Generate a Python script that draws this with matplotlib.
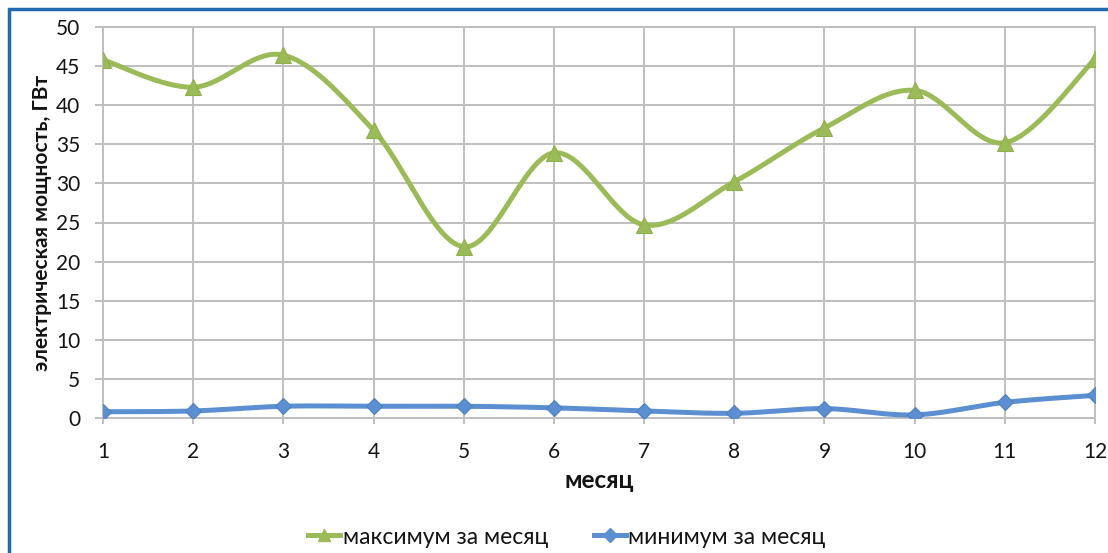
import numpy as np
import matplotlib
matplotlib.use("Agg")
import matplotlib.pyplot as plt
from matplotlib.patches import Rectangle

months = [1, 2, 3, 4, 5, 6, 7, 8, 9, 10, 11, 12]
max_vals = [45.8, 42.3, 46.4, 36.8, 21.9, 33.9, 24.7, 30.2, 37.1, 41.9, 35.2, 45.9]
min_vals = [0.8, 0.9, 1.5, 1.5, 1.5, 1.3, 0.9, 0.6, 1.2, 0.4, 2.0, 2.9]
y_ticks = [0, 5, 10, 15, 20, 25, 30, 35, 40, 45, 50]
label_max = "максимум за месяц"
label_min = "минимум за месяц"
xlabel = "месяц"
ylabel = "электрическая мощность, ГВт"

plt.rcParams['font.family'] = ['Lato', 'DejaVu Sans']


def smooth(x, y, n=40):
    x = np.asarray(x, float)
    y = np.asarray(y, float)
    P = np.column_stack([x, y])
    out = [P[0]]
    m = len(P)
    for i in range(m - 1):
        p0 = P[i - 1] if i > 0 else P[i]
        p1 = P[i]
        p2 = P[i + 1]
        p3 = P[i + 2] if i + 2 < m else P[i + 1]
        c1 = p1 + (p2 - p0) / 6.0
        c2 = p2 - (p3 - p1) / 6.0
        t = np.linspace(0, 1, n)[1:, None]
        seg = ((1 - t) ** 3) * p1 + 3 * ((1 - t) ** 2) * t * c1 + 3 * (1 - t) * t ** 2 * c2 + t ** 3 * p2
        out.extend(seg)
    out = np.array(out)
    return out[:, 0], out[:, 1]


W, H = 1108, 553
fig = plt.figure(figsize=(W / 100, H / 100), dpi=100)
ax = fig.add_axes([103 / W, 1 - 418 / H, (1095 - 103) / W, (418 - 27) / H])

green = '#9BBB59'
blue = '#5B8FD2'
grid_c = '#BFBFBF'
text_c = '#141414'

sx, sy = smooth(months, max_vals)
ax.plot(sx, sy, color=green, lw=3.6, solid_capstyle='round', zorder=3)
ax.plot(months, max_vals, linestyle='none', marker='^', ms=11, color=green,
        markeredgecolor='#8FB04C', markeredgewidth=0.8, zorder=4)
sx2, sy2 = smooth(months, min_vals)
ax.plot(sx2, sy2, color=blue, lw=3.6, solid_capstyle='round', zorder=3)
ax.plot(months, min_vals, linestyle='none', marker='D', ms=8.5, color=blue,
        markeredgecolor='#4F81BD', markeredgewidth=0.8, zorder=4)

# legend proxies
h1, = ax.plot([], [], color=green, lw=3.6, marker='^', ms=10, label=label_max)
h2, = ax.plot([], [], color=blue, lw=3.6, marker='D', ms=8, label=label_min)

ax.set_xlim(1, 12)
ax.set_ylim(0, 50)
ax.set_xticks(months)
ax.set_yticks(y_ticks)
ax.grid(True, color=grid_c, lw=1.4)
ax.set_axisbelow(True)
for s in ax.spines.values():
    s.set_color(grid_c)
    s.set_linewidth(1.4)
ax.tick_params(axis='y', colors=grid_c, length=5.5, width=1.4, labelsize=15,
               labelcolor=text_c, pad=11)
ax.tick_params(axis='x', colors=grid_c, length=4, width=1.4, labelsize=15,
               labelcolor=text_c, pad=13)
ax.set_xlabel(xlabel, fontsize=17.5, fontweight='bold', labelpad=5, color=text_c)
ax.set_ylabel(ylabel, fontsize=15, fontweight='bold', labelpad=3, color=text_c)

leg = fig.legend(handles=[h1, h2], loc='center', bbox_to_anchor=(567 / W, 1 - 537 / H),
                 ncol=2, frameon=False, fontsize=16.5, handlelength=1.4,
                 handletextpad=0.1, columnspacing=2.0, markerscale=0.9)
for t in leg.get_texts():
    t.set_color(text_c)

fig.patches.append(Rectangle((9 / W, -0.1), 1.2, 1 - 9 / H + 0.1, transform=fig.transFigure,
                             fill=False, edgecolor='#1F6BAE', lw=2.5, zorder=0))

fig.savefig('out.png', dpi=100)
